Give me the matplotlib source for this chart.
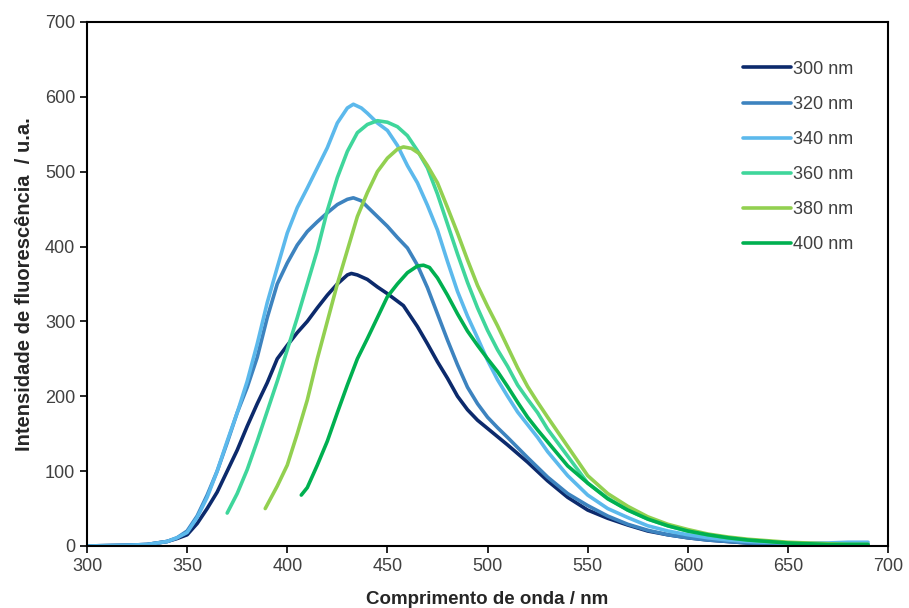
import numpy as np
import matplotlib.pyplot as plt

plt.rcParams['font.family'] = ['Liberation Sans', 'DejaVu Sans']

# excitation wavelengths and emission spectra
labels = ['300 nm', '320 nm', '340 nm', '360 nm', '380 nm', '400 nm']
colors = ['#0c2a6c', '#3d83bf', '#5cb9ec', '#3fd69b', '#92d050', '#00b050']

wl_300 = [300, 310, 320, 330, 340, 345, 350, 355, 360, 365, 370, 375, 380, 385, 390, 395, 400, 405, 410,
          415, 420, 425, 430, 432, 435, 440, 445, 450, 455, 458, 460, 465, 470, 475, 480, 485, 490, 495,
          500, 510, 520, 530, 540, 550, 560, 570, 580, 590, 600, 610, 620, 630, 640, 650, 660, 670, 680, 690]
em_300 = [0, 0.5, 1, 2, 6, 10, 15, 30, 50, 72, 100, 128, 160, 190, 218, 250, 268, 285, 300,
          318, 335, 350, 362, 364, 362, 356, 346, 337, 327, 321, 313, 293, 270, 246, 224, 200, 182, 168,
          157, 135, 112, 87, 65, 48, 37, 28, 20, 15, 11, 8, 6, 4, 3, 2, 1.5, 1, 1, 1]

wl_320 = [300, 310, 320, 330, 340, 345, 350, 355, 360, 365, 370, 375, 380, 385, 390, 395, 400, 405, 410,
          415, 420, 425, 430, 433, 437, 440, 445, 450, 455, 460, 465, 470, 475, 480, 485, 490, 495, 500,
          505, 510, 520, 530, 540, 550, 560, 570, 580, 590, 600, 610, 620, 630, 640, 650, 660, 670, 680, 690]
em_320 = [0, 0.5, 1, 2, 6, 11, 20, 40, 68, 100, 138, 178, 212, 252, 305, 350, 378, 402, 420,
          433, 445, 456, 463, 465, 461, 453, 440, 427, 412, 398, 375, 345, 310, 275, 242, 212, 190, 172,
          158, 145, 118, 92, 70, 54, 40, 29, 21, 15, 11, 8, 6, 4, 3, 2, 1.5, 1, 1, 1]

wl_340 = [300, 310, 320, 330, 340, 345, 350, 355, 360, 365, 370, 375, 380, 385, 390, 395, 400, 405, 410,
          415, 420, 425, 430, 433, 437, 440, 445, 450, 455, 460, 465, 470, 475, 480, 485, 490, 495, 500,
          505, 510, 515, 520, 525, 530, 540, 550, 560, 570, 580, 590, 600, 610, 620, 630, 640, 650, 660,
          670, 680, 690]
em_340 = [0, 0.5, 1, 2, 6, 11, 18, 38, 65, 100, 140, 178, 220, 270, 325, 372, 418, 452, 478,
          505, 532, 565, 585, 590, 585, 578, 565, 555, 535, 508, 485, 455, 422, 380, 340, 307, 278, 248,
          222, 200, 179, 162, 145, 126, 94, 68, 50, 38, 27, 20, 15, 11, 8, 6, 5, 4, 4,
          4, 5, 5]

wl_360 = [370, 375, 380, 385, 390, 395, 400, 405, 410, 415, 420, 425, 430, 435, 440, 445, 450, 455,
          460, 465, 470, 475, 480, 485, 490, 495, 500, 505, 510, 515, 520, 525, 530, 540, 550, 560, 570,
          580, 590, 600, 610, 620, 630, 640, 650, 660, 670, 680, 690]
em_360 = [44, 70, 102, 140, 180, 220, 262, 305, 350, 395, 448, 492, 527, 552, 563, 568, 566, 560,
          548, 528, 505, 470, 430, 390, 352, 318, 288, 262, 240, 215, 196, 178, 156, 120, 84, 64, 48,
          36, 27, 20, 15, 11, 8, 6, 4, 3, 2, 2, 2]

wl_380 = [389, 392, 395, 400, 405, 410, 415, 420, 425, 430, 435, 440, 445, 450, 455, 458, 462, 466,
          470, 475, 480, 485, 490, 495, 500, 505, 510, 515, 520, 525, 530, 540, 550, 560, 570, 580, 590,
          600, 610, 620, 630, 640, 650, 660, 670, 680, 690]
em_380 = [50, 65, 80, 108, 150, 195, 250, 300, 350, 395, 440, 472, 500, 518, 530, 533, 531, 524,
          508, 485, 452, 418, 382, 348, 320, 294, 266, 238, 213, 192, 172, 133, 94, 70, 53, 39, 29,
          22, 16, 12, 9, 7, 5, 4, 3, 2, 2]

wl_400 = [407, 410, 415, 420, 425, 430, 435, 440, 445, 450, 455, 460, 465, 468, 471, 475, 480, 485,
          490, 495, 500, 505, 510, 515, 520, 525, 530, 540, 550, 560, 570, 580, 590, 600, 610, 620, 630,
          640, 650, 660, 670, 680, 690]
em_400 = [68, 78, 108, 140, 178, 215, 250, 277, 305, 333, 350, 365, 374, 375, 372, 358, 335, 310,
          287, 268, 250, 233, 213, 192, 172, 155, 139, 107, 84, 63, 48, 36, 27, 20, 15, 11, 8,
          6, 4, 3, 2, 2, 2]

wls = [wl_300, wl_320, wl_340, wl_360, wl_380, wl_400]
ems = [em_300, em_320, em_340, em_360, em_380, em_400]

fig = plt.figure(figsize=(9.09, 6.08), dpi=100)
ax = fig.add_axes([0.0957, 0.102, 0.8813, 0.862])

for wl, em, c, lab in zip(wls, ems, colors, labels):
    ax.plot(wl, em, color=c, lw=2.6, label=lab, solid_capstyle='round', solid_joinstyle='round')

ax.set_xlim(300, 700)
ax.set_ylim(0, 700)
ax.set_xticks(np.arange(300, 701, 50))
ax.set_yticks(np.arange(0, 701, 100))
ax.tick_params(direction='out', length=5, width=1.2, labelsize=13, colors='black', labelcolor='#404040')
for s in ax.spines.values():
    s.set_linewidth(1.5)

ax.set_xlabel('Comprimento de onda / nm', fontsize=13.5, fontweight='bold', color='#262626', labelpad=12)
ax.set_ylabel('Intensidade de fluorescência  / u.a.', fontsize=14.5, fontweight='bold', color='#262626',
              labelpad=8)

ax.legend(loc='upper left', bbox_to_anchor=(0.807, 0.943), frameon=False, fontsize=13, handlelength=2.7,
          handletextpad=0.1, labelspacing=1.0, borderpad=0, labelcolor='#404040')

fig.savefig('out.png', dpi=100)
